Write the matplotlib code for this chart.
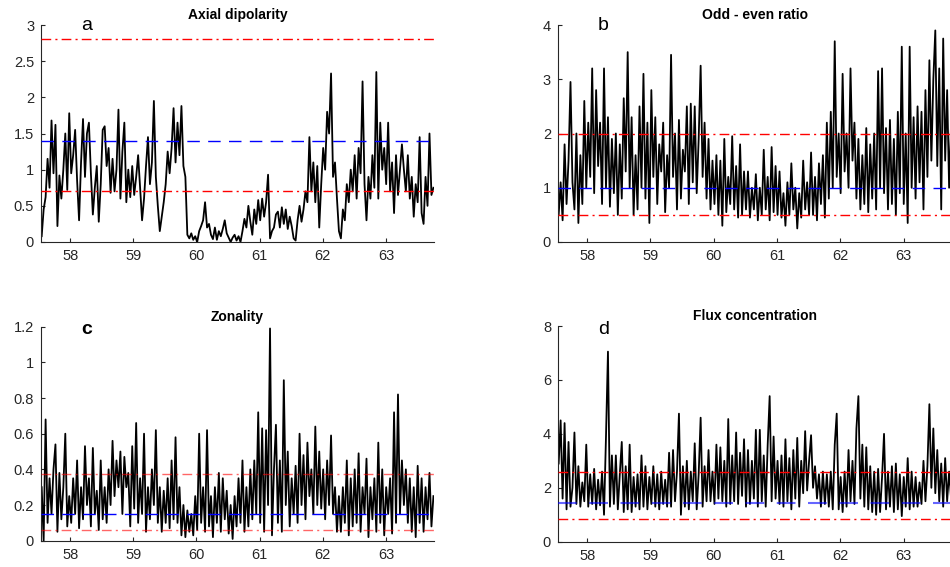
import matplotlib
matplotlib.use("Agg")
import matplotlib.pyplot as plt
import numpy as np
from matplotlib.ticker import FuncFormatter

plt.rcParams['font.family'] = ['Liberation Sans', 'DejaVu Sans']

# hand-read series, 8 samples per ~0.25 time unit, from 57.55 to 63.75
axial = [
    0.08, 0.45, 0.62, 1.15, 0.75, 1.68, 0.95, 1.62,
    0.22, 0.92, 0.6, 1.0, 1.5, 0.72, 1.78, 0.95,
    1.2, 1.55, 0.85, 0.3, 1.1, 1.7, 0.9, 1.5,
    1.65, 0.95, 0.38, 0.75, 1.05, 0.28, 0.8, 1.55,
    1.6, 1.05, 1.3, 0.68, 1.15, 0.7, 1.0, 1.83,
    0.6, 1.25, 1.65, 0.55, 1.0, 0.62, 1.05, 0.65,
    0.9, 1.2, 0.75, 0.3, 0.6, 1.05, 1.45, 0.8,
    1.1, 1.95, 0.9, 0.5, 0.15, 0.35, 0.55, 0.8,
    1.25, 0.95, 1.3, 1.85, 1.1, 1.65, 1.2, 1.88,
    1.05, 0.9, 0.1, 0.05, 0.12, 0.03, 0.08, 0.0,
    0.15, 0.22, 0.3, 0.55, 0.2, 0.25, 0.1, 0.04,
    0.2, 0.03, 0.15, 0.08, 0.18, 0.3, 0.12, 0.06,
    0.0, 0.06, 0.1, 0.02, 0.08, 0.0, 0.15, 0.32,
    0.2, 0.5, 0.28, 0.1, 0.45, 0.25, 0.58, 0.3,
    0.6, 0.35, 0.55, 0.93, 0.05, 0.15, 0.2, 0.38,
    0.42, 0.2, 0.48, 0.25, 0.45, 0.18, 0.35, 0.22,
    0.05, 0.02, 0.3, 0.5, 0.28, 0.45, 0.7, 0.55,
    1.45, 0.7, 1.1, 0.55, 1.05, 0.2, 0.8, 1.3,
    1.0, 1.8, 1.5, 2.33, 0.9, 1.1, 0.6, 0.15,
    0.05, 0.45, 0.3, 0.8, 0.55, 1.0, 0.7, 1.2,
    0.6, 1.3, 0.95, 2.22, 0.8, 0.3, 0.9, 0.6,
    1.2, 0.75, 2.35, 0.6, 1.65, 1.0, 1.3, 0.8,
    1.65, 0.7, 1.1, 0.4, 1.2, 0.65, 1.0, 1.35,
    1.0, 0.7, 1.2, 0.6, 0.9, 0.35, 0.8, 0.55,
    1.45, 0.4, 0.25, 0.9, 0.5, 1.5, 0.65, 0.75,
]

odd_even = [
    0.5, 1.1, 0.4, 1.8, 0.7, 1.5, 2.95, 1.1,
    0.6, 2.0, 0.35, 1.6, 0.7, 2.6, 1.0, 2.2,
    1.2, 3.2, 0.9, 2.8, 1.4, 2.2, 0.7, 3.2,
    1.0, 2.3, 0.65, 1.9, 0.9, 2.0, 0.5, 1.8,
    0.8, 2.65, 1.3, 3.5, 1.0, 2.3, 0.5, 1.6,
    0.6, 2.5, 1.0, 3.1, 0.8, 2.2, 0.35, 2.8,
    1.2, 2.3, 0.7, 1.8, 1.3, 2.2, 0.55, 1.6,
    1.0, 3.45, 1.2, 2.0, 0.6, 2.25, 0.8, 1.7,
    1.3, 2.5, 0.7, 2.55, 1.1, 2.5, 0.9, 1.9,
    3.25, 1.2, 2.2, 0.8, 1.9, 0.6, 1.5, 0.7,
    1.6, 0.5, 1.5, 0.3, 1.9, 0.55, 1.2, 0.7,
    1.95, 0.6, 1.4, 0.45, 1.8, 0.5, 1.3, 0.6,
    1.3, 0.45, 1.0, 0.6, 1.25, 0.4, 1.0, 0.5,
    1.7, 0.6, 1.2, 0.4, 1.75, 0.55, 1.4, 0.5,
    1.3, 0.45, 0.9, 0.3, 1.1, 0.5, 1.45, 0.6,
    1.0, 0.25, 0.9, 0.45, 1.5, 0.6, 1.1, 0.5,
    1.65, 0.5, 1.2, 0.4, 1.45, 0.7, 1.6, 0.45,
    2.2, 0.8, 2.4, 1.0, 3.7, 1.2, 2.0, 0.9,
    3.1, 1.3, 2.0, 1.0, 3.2, 1.5, 2.2, 0.8,
    1.9, 0.6, 1.6, 0.7, 2.1, 0.55, 1.8, 0.8,
    2.0, 0.6, 3.15, 1.0, 3.2, 0.9, 2.1, 0.6,
    2.25, 0.7, 1.9, 0.5, 2.4, 0.9, 3.6, 0.7,
    2.0, 0.35, 3.6, 1.0, 2.3, 0.8, 2.5, 1.1,
    2.4, 0.6, 2.8, 1.2, 3.35, 1.5, 3.0, 3.9,
    1.4, 3.2, 0.6, 3.75, 1.5, 2.8, 1.0, 2.2,
]

zonality = [
    0.3, 0.0, 0.68, 0.1, 0.35, 0.15, 0.4, 0.54,
    0.05, 0.38, 0.12, 0.3, 0.6, 0.08, 0.25, 0.1,
    0.35, 0.15, 0.45, 0.07, 0.3, 0.12, 0.53, 0.2,
    0.35, 0.08, 0.52, 0.15, 0.28, 0.06, 0.45, 0.12,
    0.3, 0.1, 0.4, 0.2, 0.56, 0.25, 0.45, 0.3,
    0.5, 0.15, 0.47, 0.3, 0.38, 0.08, 0.53, 0.18,
    0.66, 0.1, 0.35, 0.15, 0.6, 0.05, 0.3, 0.12,
    0.4, 0.2, 0.62, 0.1, 0.3, 0.05, 0.28, 0.1,
    0.35, 0.07, 0.45, 0.12, 0.58, 0.1, 0.3, 0.03,
    0.2, 0.02, 0.17, 0.05, 0.15, 0.03, 0.25, 0.06,
    0.6, 0.1, 0.3, 0.05, 0.62, 0.08, 0.25, 0.02,
    0.3, 0.1, 0.38, 0.05, 0.35, 0.12, 0.28, 0.04,
    0.2, 0.01, 0.25, 0.08, 0.35, 0.1, 0.45, 0.05,
    0.3, 0.08, 0.4, 0.12, 0.45, 0.15, 0.72, 0.1,
    0.63, 0.05, 0.62, 0.2, 1.19, 0.03, 0.4, 0.65,
    0.1, 0.45, 0.05, 0.9, 0.2, 0.5, 0.08, 0.35,
    0.15, 0.42, 0.1, 0.6, 0.2, 0.48, 0.12, 0.55,
    0.25, 0.4, 0.15, 0.64, 0.2, 0.5, 0.18, 0.4,
    0.12, 0.45, 0.2, 0.59, 0.15, 0.3, 0.05, 0.25,
    0.05, 0.3, 0.1, 0.45, 0.03, 0.35, 0.08, 0.4,
    0.1, 0.49, 0.05, 0.3, 0.15, 0.46, 0.02, 0.3,
    0.12, 0.35, 0.05, 0.55, 0.1, 0.4, 0.03, 0.3,
    0.15, 0.35, 0.04, 0.72, 0.1, 0.82, 0.15, 0.45,
    0.2, 0.4, 0.1, 0.35, 0.05, 0.3, 0.02, 0.42,
    0.1, 0.35, 0.05, 0.3, 0.12, 0.38, 0.08, 0.25,
]

flux = [
    2.9, 4.5, 1.6, 4.4, 1.2, 3.7, 1.3, 2.0,
    4.05, 1.4, 2.8, 1.3, 2.2, 1.5, 3.6, 1.3,
    2.5, 1.4, 2.7, 1.2, 2.3, 1.35, 2.6, 1.0,
    3.9, 7.05, 1.3, 3.2, 1.4, 3.2, 1.2, 2.5,
    3.7, 1.1, 2.8, 1.2, 3.6, 1.1, 2.4, 1.3,
    2.5, 1.2, 3.2, 1.3, 2.8, 1.2, 2.4, 1.4,
    2.8, 1.3, 2.5, 1.2, 2.6, 1.4, 2.3, 1.3,
    3.3, 1.3, 3.4, 1.5, 2.6, 4.75, 1.0, 2.8,
    1.3, 3.0, 1.2, 2.6, 1.5, 3.65, 1.2, 2.5,
    4.6, 1.3, 2.8, 1.5, 3.4, 1.5, 2.6, 1.4,
    3.6, 1.6, 3.5, 1.5, 3.0, 1.3, 4.55, 1.4,
    3.2, 1.5, 4.05, 1.4, 3.3, 1.7, 3.8, 1.3,
    3.4, 1.4, 3.0, 1.6, 4.15, 1.3, 4.15, 1.5,
    3.2, 1.3, 3.6, 5.4, 1.5, 3.9, 1.6, 3.0,
    1.4, 3.2, 1.3, 3.8, 1.5, 3.1, 1.2, 3.4,
    1.6, 3.85, 1.3, 3.0, 1.8, 4.1, 1.9, 3.0,
    3.95, 2.0, 2.8, 1.6, 2.5, 1.3, 2.6, 1.4,
    2.5, 1.3, 2.6, 1.2, 3.6, 4.75, 1.2, 2.4,
    1.1, 2.6, 1.3, 3.4, 1.5, 3.0, 1.4, 4.2,
    5.4, 1.6, 3.6, 1.3, 3.5, 1.2, 2.8, 1.1,
    2.6, 1.0, 2.7, 1.1, 2.4, 4.0, 1.2, 2.6,
    1.3, 2.8, 1.1, 2.9, 1.2, 2.5, 0.95, 2.4,
    1.3, 3.1, 1.2, 2.6, 1.3, 2.4, 1.3, 2.2,
    1.4, 3.0, 1.5, 2.8, 5.1, 2.0, 4.2, 1.8,
    3.4, 1.5, 2.9, 1.3, 3.1, 1.5, 2.6, 1.6,
]

titles = ['Axial dipolarity', 'Odd - even ratio', 'Zonality', 'Flux concentration']
letters = ['a', 'b', 'c', 'd']
series = [axial, odd_even, zonality, flux]
ylims = [3, 4, 1.2, 8]
ysteps = [0.5, 1, 0.2, 2]
# (lower red, blue mean, upper red)
ref_lines = [(0.7, 1.4, 2.8), (0.5, 1.0, 2.0), (0.06, 0.15, 0.375), (0.85, 1.45, 2.6)]
xticks = [58, 59, 60, 61, 62, 63]

fig = plt.figure(figsize=(9.5, 5.67), dpi=100)
positions = [
    [0.0432, 0.5732, 0.4137, 0.3827],
    [0.5874, 0.5732, 0.4144, 0.3827],
    [0.0432, 0.0464, 0.4137, 0.3774],
    [0.5874, 0.0446, 0.4144, 0.3804],
]
fmt = FuncFormatter(lambda v, p: '%g' % round(v, 3))

for i in range(4):
    ax = fig.add_axes(positions[i])
    y = np.array(series[i])
    x = np.linspace(57.55, 63.75, len(y))
    ax.plot(x, y, color='black', lw=1.3, zorder=2)
    lo, mid, hi = ref_lines[i]
    ralpha = 0.6 if i == 2 else 1.0
    for v in (lo, hi):
        ax.axhline(v, color='#ff0000', lw=1, alpha=ralpha, dashes=(7, 3, 1.5, 3), zorder=3)
    balpha = 0.6 if i == 3 else 1.0
    blw = 1.5 if i == 3 else 1.0
    ax.axhline(mid, color='#0000ff', lw=blw, alpha=balpha, dashes=(9, 6), zorder=3)

    ax.set_xlim(57.54, 63.76)
    ax.set_ylim(0, ylims[i])
    ax.set_xticks(xticks)
    ax.set_yticks(np.arange(0, ylims[i] + 1e-9, ysteps[i]))
    ax.yaxis.set_major_formatter(fmt)
    ax.tick_params(direction='in', length=3, labelsize=10.5, colors='#262626', pad=5)
    for s in ['top', 'right']:
        ax.spines[s].set_visible(False)
    for s in ['left', 'bottom']:
        ax.spines[s].set_color('#262626')
        ax.spines[s].set_linewidth(0.8)
    ax.set_title(titles[i], fontsize=10, fontweight='bold', pad=4)
    ax.text(0.115, 0.985 if i >= 2 else 1.0, letters[i], transform=ax.transAxes,
            fontsize=14, fontweight='bold' if i == 2 else 'normal',
            ha='center', va='center')

fig.savefig('out.png', dpi=100)
